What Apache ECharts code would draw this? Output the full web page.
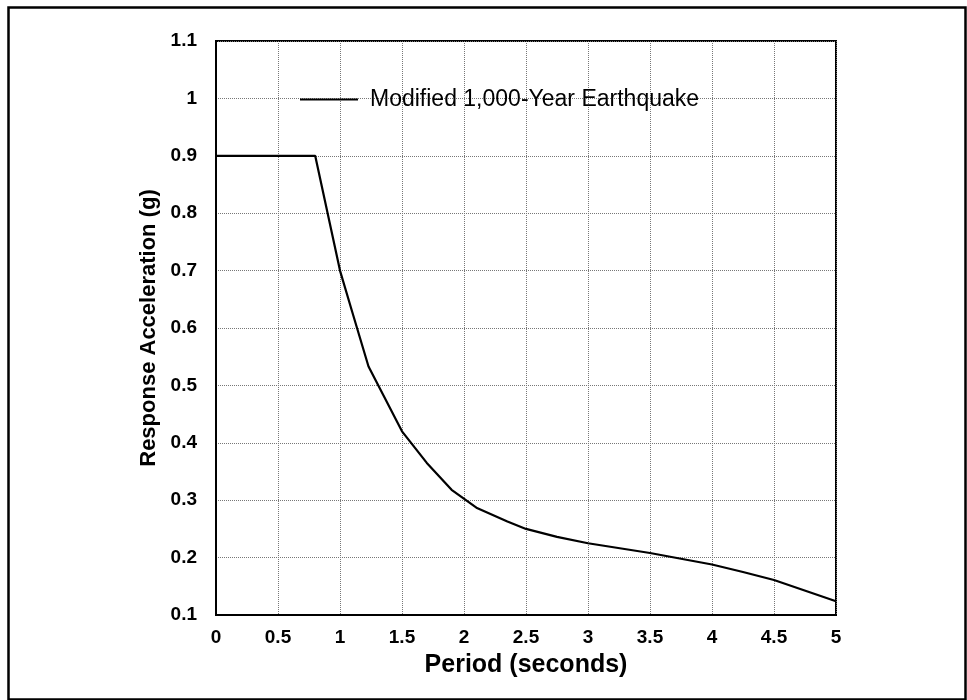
<!DOCTYPE html>
<html>
<head>
<meta charset="utf-8">
<script src="https://cdn.jsdelivr.net/npm/echarts@6/dist/echarts.min.js"></script>
<style>html,body{margin:0;padding:0;background:#fff;}#chart{width:967px;height:700px;}</style>
</head>
<body>
<div id="chart"></div>
<script>
const seriesName = 'Modified 1,000-Year Earthquake';
const periods = [0, 0.8, 1.0, 1.1, 1.23, 1.5, 1.7, 1.9, 2.1, 2.35, 2.5, 2.75, 3.0, 3.5, 4.0, 4.25, 4.5, 5.0];
const accel   = [0.9, 0.9, 0.70, 0.627, 0.533, 0.42, 0.365, 0.318, 0.287, 0.263, 0.25, 0.236, 0.225, 0.208, 0.188, 0.175, 0.161, 0.124];
const xTitle = 'Period (seconds)';
const yTitle = 'Response Acceleration (g)';

const FONT = '"Liberation Sans", Arial, sans-serif';
const chart = echarts.init(document.getElementById('chart'));
const fmt = v => String(Math.round(v * 10) / 10);
chart.setOption({
  animation: false,
  backgroundColor: '#fff',
  textStyle: { fontFamily: FONT },
  graphic: [{
    type: 'rect', left: 6, top: 5, shape: { width: 957, height: 692 },
    style: { fill: 'none', stroke: '#000', lineWidth: 2.5 }, silent: true
  }],
  grid: { left: 216, right: 131, top: 41, bottom: 85, show: true, borderColor: '#000', borderWidth: 2, backgroundColor: 'transparent' },
  legend: {
    left: 295, top: 83,
    data: [{ name: seriesName, icon: 'rect' }],
    itemWidth: 58, itemHeight: 2,
    itemStyle: { color: '#000' },
    textStyle: { fontFamily: FONT, fontSize: 23, color: '#000', padding: [0, 0, 0, 7] }
  },
  xAxis: {
    type: 'value', min: 0, max: 5, interval: 0.5,
    name: xTitle, nameLocation: 'middle', nameGap: 38,
    nameTextStyle: { fontFamily: FONT, fontSize: 25, fontWeight: 'bold', color: '#000' },
    axisLine: { lineStyle: { color: '#000', width: 2 } },
    axisTick: { show: false },
    axisLabel: { formatter: fmt, fontFamily: FONT, fontSize: 19, fontWeight: 'bold', color: '#000', margin: 13 },
    splitLine: { show: true, lineStyle: { color: '#777', type: 'dotted', width: 1 } }
  },
  yAxis: {
    type: 'value', min: 0.1, max: 1.1, interval: 0.1,
    name: yTitle, nameLocation: 'middle', nameGap: 52, nameRotate: 90,
    nameTextStyle: { fontFamily: FONT, fontSize: 22, fontWeight: 'bold', color: '#000' },
    axisLine: { lineStyle: { color: '#000', width: 2 } },
    axisTick: { show: false },
    axisLabel: { formatter: fmt, fontFamily: FONT, fontSize: 19, fontWeight: 'bold', color: '#000', margin: 19 },
    splitLine: { show: true, lineStyle: { color: '#777', type: 'dotted', width: 1 } }
  },
  series: [{
    name: seriesName, type: 'line', symbol: 'none',
    data: periods.map((p, i) => [p, accel[i]]),
    lineStyle: { color: '#000', width: 2.2 }, itemStyle: { color: '#000' }
  }]
});
</script>
</body>
</html>
